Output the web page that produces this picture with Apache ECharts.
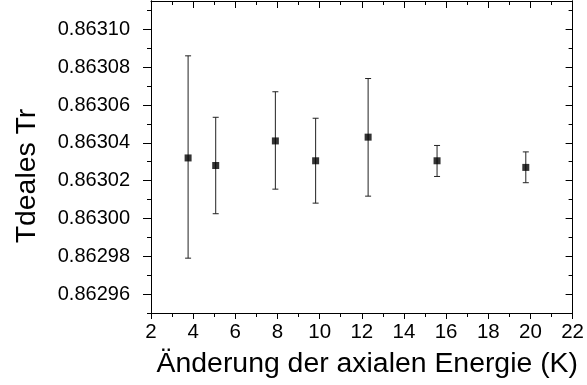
<!DOCTYPE html>
<html>
<head>
<meta charset="utf-8">
<script src="https://cdn.jsdelivr.net/npm/echarts@6/dist/echarts.min.js"></script>
<style>html,body{margin:0;padding:0;background:#fff}#c{width:587px;height:385px}</style>
</head>
<body>
<div id="c"></div>
<script>
const xVals = [3.76, 5.07, 7.90, 9.81, 12.30, 15.57, 19.78];
const yVals = [0.863032, 0.863028, 0.863041, 0.8630305, 0.863043, 0.8630305, 0.863027];
const yHigh = [0.863086, 0.8630535, 0.863067, 0.863053, 0.863074, 0.8630386, 0.8630352];
const yLow  = [0.862979, 0.8630025, 0.8630155, 0.8630081, 0.8630118, 0.8630222, 0.8630189];
const yMajorTicks = [0.86296, 0.86298, 0.86300, 0.86302, 0.86304, 0.86306, 0.86308, 0.86310];
const yMinorTicks = [0.86295, 0.86297, 0.86299, 0.86301, 0.86303, 0.86305, 0.86307, 0.86309, 0.86311];
const xTitle = 'Änderung der axialen Energie (K)';
const yTitle = 'Tdeales Tr';

const FONT = 'Liberation Sans, Arial, sans-serif';
const YMIN = 0.86295, YMAX = 0.863115;

const pts = xVals.map((x, i) => [x, yVals[i]]);
const errs = xVals.map((x, i) => [x, yLow[i], yHigh[i]]);

const line = { show: true, lineStyle: { color: '#000', width: 1 } };
function yAx(extra) {
  return Object.assign({
    type: 'value', min: YMIN, max: YMAX, splitLine: { show: false },
    axisLine: line
  }, extra);
}

const chart = echarts.init(document.getElementById('c'));
chart.setOption({
  animation: false,
  grid: { left: 151, right: 12, top: 1, bottom: 72 },
  xAxis: [
    {
      type: 'value', min: 2, max: 22, interval: 2, position: 'bottom',
      axisLine: line, splitLine: { show: false },
      axisTick: { show: true, inside: false, length: 6, lineStyle: { color: '#000' } },
      minorTick: { show: true, splitNumber: 2, length: 4, lineStyle: { color: '#000' } },
      axisLabel: { color: '#000', fontFamily: FONT, fontSize: 20.5, margin: 9 },
      name: xTitle, nameLocation: 'middle', nameGap: 37,
      nameTextStyle: { color: '#000', fontFamily: FONT, fontSize: 28.4, padding: [0, 0, 0, 11] }
    },
    {
      type: 'value', min: 2, max: 22, interval: 2, position: 'top',
      axisLine: line, splitLine: { show: false },
      axisTick: { show: true, inside: true, length: 7, lineStyle: { color: '#000' } },
      minorTick: { show: true, splitNumber: 2, length: 4, lineStyle: { color: '#000' } },
      axisLabel: { show: false }
    }
  ],
  yAxis: [
    yAx({
      position: 'left',
      axisTick: { show: true, inside: false, length: 8, customValues: yMajorTicks, lineStyle: { color: '#000' } },
      axisLabel: { color: '#000', fontFamily: FONT, fontSize: 20, margin: 21, customValues: yMajorTicks,
        formatter: v => v.toFixed(5) },
      name: yTitle, nameLocation: 'middle', nameGap: 110, nameRotate: 90,
      nameTextStyle: { color: '#000', fontFamily: FONT, fontSize: 28.4, padding: [0, 38, 0, 0] }
    }),
    yAx({
      position: 'left',
      axisTick: { show: true, inside: false, length: 4, customValues: yMinorTicks, lineStyle: { color: '#000' } },
      axisLabel: { show: false }
    }),
    yAx({
      position: 'right',
      axisTick: { show: true, inside: true, length: 7, customValues: yMajorTicks, lineStyle: { color: '#000' } },
      axisLabel: { show: false }
    }),
    yAx({
      position: 'right',
      axisTick: { show: true, inside: true, length: 4, customValues: yMinorTicks, lineStyle: { color: '#000' } },
      axisLabel: { show: false }
    })
  ],
  series: [
    {
      type: 'custom', xAxisIndex: 0, yAxisIndex: 0, data: errs, z: 2,
      renderItem: function (params, api) {
        const x = api.value(0);
        const lo = api.coord([x, api.value(1)]);
        const hi = api.coord([x, api.value(2)]);
        const w = 3;
        const st = { stroke: '#222', lineWidth: 1 };
        return {
          type: 'group',
          children: [
            { type: 'line', shape: { x1: lo[0], y1: lo[1], x2: hi[0], y2: hi[1] }, style: st },
            { type: 'line', shape: { x1: hi[0] - w, y1: hi[1], x2: hi[0] + w, y2: hi[1] }, style: st },
            { type: 'line', shape: { x1: lo[0] - w, y1: lo[1], x2: lo[0] + w, y2: lo[1] }, style: st }
          ]
        };
      }
    },
    {
      type: 'scatter', xAxisIndex: 0, yAxisIndex: 0, data: pts, z: 3,
      symbol: 'rect', symbolSize: 7, itemStyle: { color: '#000' }
    }
  ]
});
</script>
</body>
</html>
